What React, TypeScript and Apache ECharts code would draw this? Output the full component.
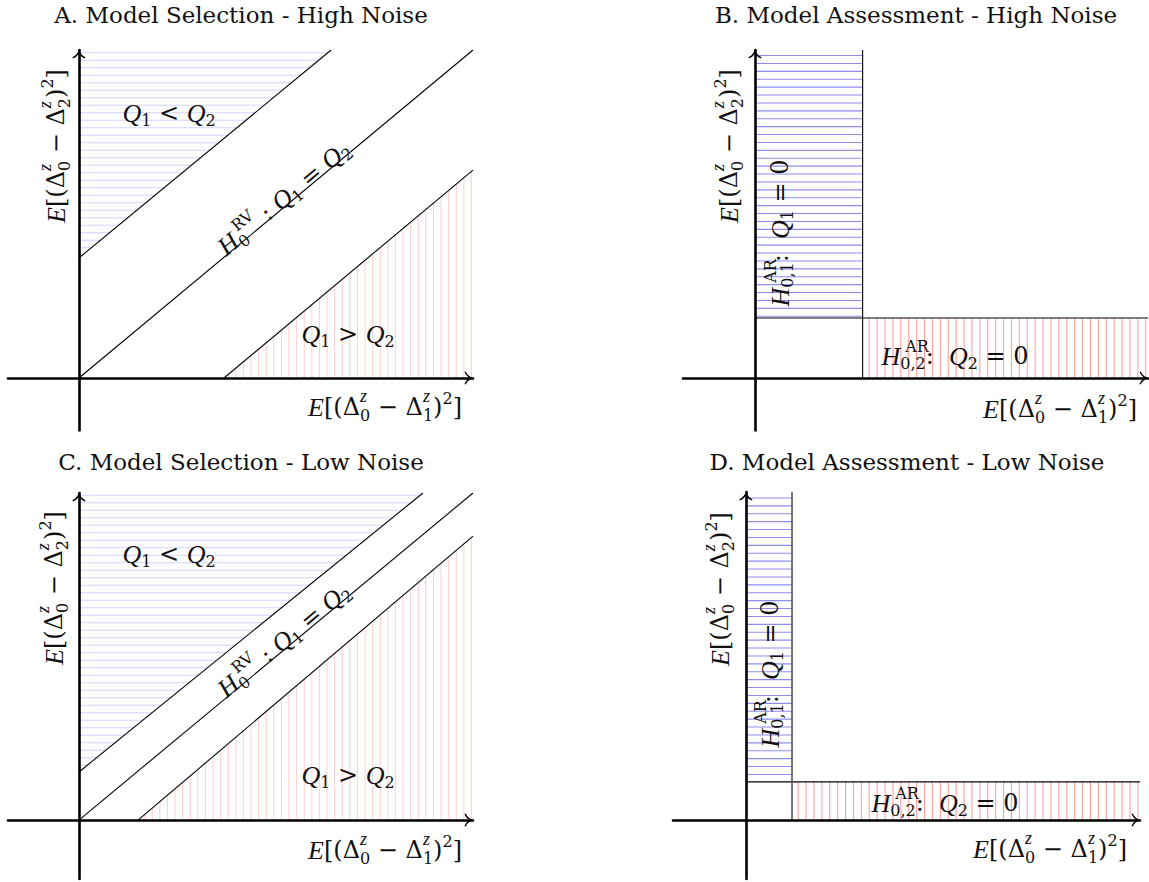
import React, { useEffect, useRef } from "react";
import * as echarts from "echarts";

// ---------- data ----------
const panelTitles = [
  "A. Model Selection - High Noise",
  "B. Model Assessment - High Noise",
  "C. Model Selection - Low Noise",
  "D. Model Assessment - Low Noise",
];

// Model selection: line Q1 = Q2 and the two band boundaries
const selDiagonal = [[0, 0], [1, 1]];
const selUpperHigh = [[0, 0.366], [0.64, 1]];
const selLowerHigh = [[0.368, 0], [1, 0.634]];
const selUpperLow = [[0, 0.147], [0.873, 1]];
const selLowerLow = [[0.15, 0], [1, 0.868]];

// Model assessment thresholds: [x threshold, y threshold]
const assessHigh = [0.274, 0.183];
const assessLow = [0.117, 0.116];

// axis extents of each panel (A, B, C, D)
const axisXMin = [-0.18, -0.183, -0.18, -0.185];
const axisYMin = [-0.16, -0.16, -0.18, -0.18];
const axisMax = 1;

// ---------- styling ----------
const F = "'DejaVu Serif', serif";
const FI = "'Liberation Serif', serif";

const gridBoxes = [
  { left: 8, top: 50, width: 465, height: 380.5 },
  { left: 683, top: 50, width: 465, height: 380.5 },
  { left: 8, top: 493, width: 465, height: 386 },
  { left: 673, top: 492, width: 467, height: 387 },
];

const ARROW =
  "path://M8,0 C8.8,3.5 11.5,7.5 16,9.6 L15.3,11 C11.6,9.4 9.3,7.2 8,4.6 C6.7,7.2 4.4,9.4 0.7,11 L0,9.6 C4.5,7.5 7.2,3.5 8,0 Z";

const LIGHT_BLUE = "#d2d2fd";
const LIGHT_RED = "#fdd2d2";
const MID_BLUE = "#8c8cf0";
const MID_RED = "#ffa0a0";

const INK = "#111";
const mathRich: any = {
  r: { font: `24px ${F}`, fill: INK, align: "left" },
  i: { font: `italic 26px ${FI}`, fill: INK, align: "left" },
  dsub: { font: `16px ${F}`, padding: [16, 0, 0, 0], fill: INK, align: "left" },
  dsupz: { font: `italic 18px ${FI}`, padding: [0, 0, 22, 0], width: 0, fill: INK, align: "left" },
  sq: { font: `16px ${F}`, padding: [14, 0, 0, 0], fill: INK, align: "left" },
  sp2: { font: `16px ${F}`, padding: [0, 0, 18, 0], fill: INK, align: "left" },
  hsubw: { font: `16px ${F}`, padding: [15, 0, 0, 0], width: 0, fill: INK, align: "left" },
  hsub: { font: `16px ${F}`, padding: [15, 0, 0, 0], fill: INK, align: "left" },
  hsupw: { font: `16px ${F}`, padding: [0, 0, 19, 0], width: 0, fill: INK, align: "left" },
  hsup: { font: `16px ${F}`, padding: [0, 0, 19, 0], fill: INK, align: "left" },
};

const xLabel = "{i|E}{r|[(Δ}{dsupz|z}{dsub|0}{r| − Δ}{dsupz|z}{dsub|1}{r|)}{sp2|2}{r|]}";
const yLabel = "{i|E}{r|[(Δ}{dsupz|z}{dsub|0}{r| − Δ}{dsupz|z}{dsub|2}{r|)}{sp2|2}{r|]}";
const qLess = "{i|Q}{sq|1}{r| < }{i|Q}{sq|2}";
const qGreater = "{i|Q}{sq|1}{r| > }{i|Q}{sq|2}";
const hRV = "{i|H}{hsubw|0}{hsup| RV}{r| : }{i|Q}{sq|1}{r| = }{i|Q}{sq|2}";
const hAR1 = "{i|H}{hsupw| AR}{hsub|0,1}{r|:  }{i|Q}{sq|1}{r| = 0}";
const hAR2 = "{i|H}{hsupw| AR}{hsub|0,2}{r|:  }{i|Q}{sq|2}{r| = 0}";

function hatchChildren(pts: number[][], horizontal: boolean, step: number, color: string) {
  const children: any[] = [];
  const a = horizontal ? 1 : 0;
  const b = 1 - a;
  const vals = pts.map((p) => p[a]);
  const lo = Math.min(...vals);
  const hi = Math.max(...vals);
  for (let s = Math.ceil(lo / step) * step + 0.25; s < hi; s += step) {
    if (s <= lo) continue;
    const cuts: number[] = [];
    for (let k = 0; k < pts.length; k++) {
      const p = pts[k];
      const q = pts[(k + 1) % pts.length];
      if ((p[a] - s) * (q[a] - s) <= 0 && p[a] !== q[a]) {
        cuts.push(p[b] + ((s - p[a]) * (q[b] - p[b])) / (q[a] - p[a]));
      }
    }
    if (cuts.length >= 2) {
      const m1 = Math.min(...cuts);
      const m2 = Math.max(...cuts);
      children.push({
        type: "line",
        shape: horizontal ? { x1: m1, y1: s, x2: m2, y2: s } : { x1: s, y1: m1, x2: s, y2: m2 },
        style: { stroke: color, lineWidth: 1.1, opacity: 1 },
      });
    }
  }
  return children;
}

function lineSeries(gi: number, data: number[][], color = "#000", width = 1.1) {
  return {
    type: "line",
    xAxisIndex: gi,
    yAxisIndex: gi,
    data,
    symbol: "none",
    showSymbol: false,
    lineStyle: { color, width },
    silent: true,
    z: 3,
  };
}

function hatchSeries(gi: number, poly: number[][], horizontal: boolean, color: string, step: number) {
  return {
    type: "custom",
    xAxisIndex: gi,
    yAxisIndex: gi,
    data: [[0, 0]],
    silent: true,
    z: 2,
    renderItem: (_params: any, api: any) => ({
      type: "group",
      children: hatchChildren(
        poly.map((p) => api.coord(p)),
        horizontal,
        step,
        color
      ),
    }),
  };
}

function selectionSeries(gi: number, upper: number[][], lower: number[][]) {
  const bluePoly = [...upper, [upper[0][0], axisMax]];
  const redPoly = [...lower, [axisMax, lower[0][1]]];
  return [
    hatchSeries(gi, bluePoly, true, LIGHT_BLUE, 7.5),
    hatchSeries(gi, redPoly, false, LIGHT_RED, 7.6),
    lineSeries(gi, upper),
    lineSeries(gi, selDiagonal),
    lineSeries(gi, lower),
  ];
}

function assessmentSeries(gi: number, th: number[], hColor: string, vColor: string, hW: number, vW: number) {
  const [tx, ty] = th;
  const bluePoly = [[0, ty], [tx, ty], [tx, axisMax], [0, axisMax]];
  const redPoly = [[tx, 0], [tx, ty], [axisMax, ty], [axisMax, 0]];
  return [
    hatchSeries(gi, bluePoly, true, MID_BLUE, 7.9),
    hatchSeries(gi, redPoly, false, MID_RED, 7.9),
    lineSeries(gi, [[0, ty], [axisMax, ty]], hColor, hW),
    lineSeries(gi, [[tx, 0], [tx, axisMax]], vColor, vW),
  ];
}

function txt(text: string, x: number, y: number, rotation = 0, align = "center", plain = false) {
  return {
    type: "text",
    x,
    y,
    rotation,
    silent: true,
    z: 100,
    style: {
      text,
      rich: plain ? undefined : mathRich,
      font: plain ? `23px ${F}` : `24px ${F}`,
      fill: INK,
      align,
      textAlign: align,
      verticalAlign: "middle",
      textVerticalAlign: "middle",
    },
  };
}

function axisCommon(i: number, min: number) {
  return {
    type: "value",
    gridIndex: i,
    min,
    max: axisMax,
    z: 5,
    axisLine: {
      show: true,
      onZero: true,
      symbol: ["none", ARROW],
      symbolSize: [14, 9],
      symbolOffset: [0, -4],
      lineStyle: { color: "#000", width: 2.6 },
    },
    axisTick: { show: false },
    axisLabel: { show: false },
    splitLine: { show: false },
  };
}

const V = Math.PI / 2;
const DIAG = Math.atan(328 / 394);

const option: any = {
  animation: false,
  backgroundColor: "#fff",
  grid: gridBoxes.map((g) => ({ ...g, containLabel: false, outerBoundsMode: "none" })),
  xAxis: gridBoxes.map((_g, i) => axisCommon(i, axisXMin[i])),
  yAxis: gridBoxes.map((_g, i) => axisCommon(i, axisYMin[i])),
  series: [
    ...selectionSeries(0, selUpperHigh, selLowerHigh),
    ...assessmentSeries(1, assessHigh, "#555", "#000", 1.6, 1.1),
    ...selectionSeries(2, selUpperLow, selLowerLow),
    ...assessmentSeries(3, assessLow, "#000", "#555", 1.1, 1.6),
  ],
  graphic: [
    // titles
    txt(panelTitles[0], 241, 15, 0, "center", true),
    txt(panelTitles[1], 916, 15, 0, "center", true),
    txt(panelTitles[2], 241, 462, 0, "center", true),
    txt(panelTitles[3], 907, 462, 0, "center", true),
    // Panel A
    txt(xLabel, 462, 407, 0, "right"),
    txt(yLabel, 56, 146, V),
    txt(qLess, 169, 113),
    txt(qGreater, 348, 334),
    txt(hRV, 284, 198, DIAG),
    // Panel B
    txt(xLabel, 1137, 409, 0, "right"),
    txt(yLabel, 729, 146, V),
    txt(hAR1, 780, 233, V),
    txt(hAR2, 955, 356),
    // Panel C
    txt(xLabel, 462, 850, 0, "right"),
    txt(yLabel, 54, 588, V),
    txt(qLess, 169, 554),
    txt(qGreater, 348, 775),
    txt(hRV, 284, 640, DIAG),
    // Panel D
    txt(xLabel, 1127, 849, 0, "right"),
    txt(yLabel, 720, 589, V),
    txt(hAR1, 770, 674, V),
    txt(hAR2, 945, 803),
  ],
};

export default function App() {
  const ref = useRef<HTMLDivElement>(null);
  useEffect(() => {
    if (!ref.current) return;
    const chart = echarts.init(ref.current, undefined, { renderer: "svg" });
    chart.setOption(option);
    return () => chart.dispose();
  }, []);
  return (
    <div
      ref={ref}
      style={{ position: "fixed", left: 0, top: 0, width: 1149, height: 882, background: "#fff" }}
    />
  );
}
